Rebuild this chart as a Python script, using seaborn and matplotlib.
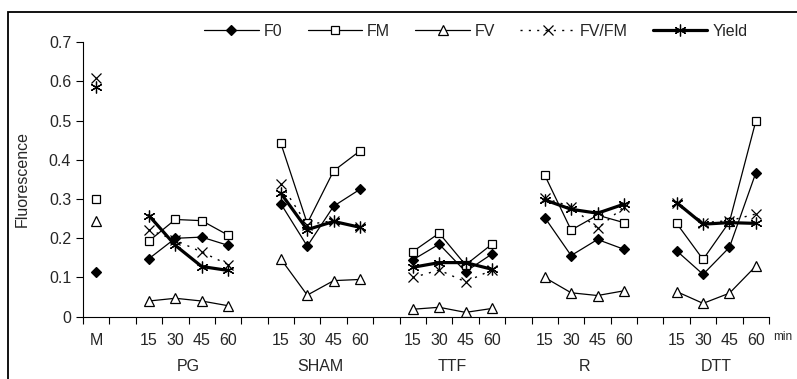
import pandas as pd
import seaborn as sns
import matplotlib.pyplot as plt
from matplotlib.patches import Rectangle

# Dane: pierwsza wartość = M, potem po 4 punkty (15, 30, 45, 60 min) dla każdej grupy
groups = ["PG", "SHAM", "TTF", "R", "DTT"]
times = ["15", "30", "45", "60"]
series = ["F0", "FM", "FV", "FV/FM", "Yield"]

f0 = [0.115,
      0.148, 0.200, 0.203, 0.182,
      0.288, 0.180, 0.282, 0.325,
      0.145, 0.185, 0.115, 0.160,
      0.253, 0.156, 0.197, 0.172,
      0.168, 0.108, 0.177, 0.367]
fm = [0.300,
      0.193, 0.248, 0.245, 0.208,
      0.442, 0.238, 0.372, 0.423,
      0.166, 0.213, 0.132, 0.185,
      0.361, 0.221, 0.259, 0.240,
      0.238, 0.146, 0.242, 0.499]
fv = [0.245,
      0.040, 0.047, 0.040, 0.028,
      0.147, 0.055, 0.092, 0.095,
      0.019, 0.024, 0.011, 0.021,
      0.100, 0.061, 0.054, 0.066,
      0.064, 0.034, 0.060, 0.129]
fvfm = [0.610,
        0.222, 0.195, 0.165, 0.133,
        0.338, 0.235, 0.245, 0.228,
        0.100, 0.119, 0.089, 0.119,
        0.302, 0.281, 0.225, 0.280,
        0.290, 0.240, 0.245, 0.262]
yld = [0.585,
       0.258, 0.182, 0.128, 0.118,
       0.315, 0.222, 0.243, 0.228,
       0.126, 0.138, 0.138, 0.121,
       0.298, 0.274, 0.264, 0.287,
       0.291, 0.236, 0.240, 0.238]

y_ticks = [0, 0.1, 0.2, 0.3, 0.4, 0.5, 0.6, 0.7]
y_labels = ["0", "0.1", "0.2", "0.3", "0.4", "0.5", "0.6", "0.7"]

# Tabela w formacie długim
rows = []
for name, vals in zip(series, [f0, fm, fv, fvfm, yld]):
    rows.append({"series": name, "group": "M", "pos": 0, "value": vals[0]})
    for g, grp in enumerate(groups):
        for i, t in enumerate(times):
            rows.append({"series": name, "group": grp, "pos": 2 + 5 * g + i,
                         "value": vals[1 + 4 * g + i]})
df = pd.DataFrame(rows)

sns.set_style("ticks")
plt.rcParams["font.family"] = ["Liberation Sans", "DejaVu Sans"]
fs = 11.5

style = {
    "F0": dict(marker="D", markersize=4.8, markerfacecolor="black", lw=0.9, ls="-"),
    "FM": dict(marker="s", markersize=5.8, markerfacecolor="white", lw=0.9, ls="-"),
    "FV": dict(marker="^", markersize=7.2, markerfacecolor="white", lw=0.9, ls="-"),
    "FV/FM": dict(marker="x", markersize=7.0, markerfacecolor="none", lw=1.0, ls=(0, (1.5, 4.5))),
    "Yield": dict(marker=(6, 2, 0), markersize=8.5, markerfacecolor="black", lw=2.3, ls="-"),
}

fig = plt.figure(figsize=(7.97, 3.79), dpi=100)
ax = fig.add_axes([0.1041, 0.1644, 0.8608, 0.724])

for name in series:
    sub = df[df["series"] == name]
    sns.lineplot(data=sub, x="pos", y="value", units="group", estimator=None,
                 sort=False, ax=ax, color="black", legend=False, label=name,
                 markeredgecolor="black", markeredgewidth=0.9, **style[name])

ax.set_xlim(-0.5, 25.5)
ax.set_ylim(0, 0.7)
ax.set_yticks(y_ticks)
ax.set_yticklabels(y_labels)
ax.set_xlabel("")
ax.set_ylabel("")

# podziałka osi X: kreski na granicach kategorii, etykiety w środkach
cat_labels = ["M", ""] + (times + [""]) * 4 + times
ax.set_xticks([x - 0.5 for x in range(27)])
ax.set_xticklabels([])
ax.set_xticks(range(len(cat_labels)), minor=True)
ax.set_xticklabels(cat_labels, minor=True)
ax.tick_params(axis="x", which="major", length=5, width=0.8, direction="out", color="black")
ax.tick_params(axis="x", which="minor", length=0, pad=12, labelsize=fs)
ax.tick_params(axis="y", length=5, width=0.8, direction="out", color="black", labelsize=fs)

sns.despine(ax=ax)
for sp in ["left", "bottom"]:
    ax.spines[sp].set_color("black")
    ax.spines[sp].set_linewidth(0.8)

for g, grp in enumerate(groups):
    ax.text(2 + 5 * g + 1.5, -0.183, grp, transform=ax.get_xaxis_transform(),
            ha="center", va="center", fontsize=fs)
ax.text(26.03, -0.075, "min", transform=ax.get_xaxis_transform(),
        ha="center", va="center", fontsize=8.5)

fig.text(22 / 797, 0.5264, "Fluorescence", rotation=90, ha="center", va="center", fontsize=fs)

handles, labels = ax.get_legend_handles_labels()
uniq = dict(zip(labels, handles))
fig.legend([uniq[s] for s in series], series, loc="center", bbox_to_anchor=(0.597, 0.918),
           ncol=5, frameon=False, handlelength=3.4, handletextpad=0.3,
           columnspacing=1.6, fontsize=fs)

fig.patches.append(Rectangle((8 / 797, -0.05), 1.1, 1 - 12 / 379 + 0.05,
                             transform=fig.transFigure, fill=False,
                             edgecolor="black", lw=1.3))

plt.savefig("out.png", dpi=100)
